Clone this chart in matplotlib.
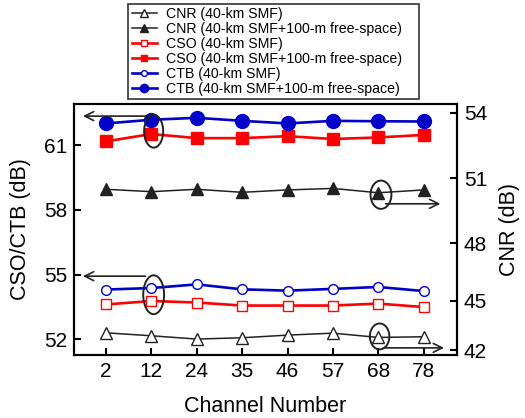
import numpy as np
import matplotlib
matplotlib.use("Agg")
import matplotlib.pyplot as plt
from matplotlib.patches import Ellipse

plt.rcParams['font.family'] = ['Liberation Sans', 'DejaVu Sans']

channels = ['2', '12', '24', '35', '46', '57', '68', '78']
cnr_smf = [43.05, 42.87, 42.67, 42.75, 42.91, 43.03, 42.77, 42.81]
cnr_fs = [50.48, 50.37, 50.48, 50.34, 50.45, 50.52, 50.32, 50.45]
cso_smf = [53.62, 53.78, 53.71, 53.57, 53.57, 53.57, 53.66, 53.50]
cso_fs = [61.17, 61.51, 61.32, 61.32, 61.41, 61.28, 61.35, 61.47]
ctb_smf = [54.31, 54.38, 54.55, 54.32, 54.26, 54.34, 54.43, 54.24]
ctb_fs = [62.00, 62.17, 62.26, 62.12, 62.00, 62.12, 62.10, 62.09]

left_ticks = [52, 55, 58, 61]
right_ticks = [42, 45, 48, 51, 54]

x = np.arange(len(channels))
blue = '#0000c8'
red = '#ff0000'
dark = '#222222'

fig = plt.figure(figsize=(5.25, 4.18), dpi=100)
ax = fig.add_axes([0.141, 0.1507, 0.729, 0.6005])
ax2 = ax.twinx()

# the right axis of the original is not evenly spaced, follow it piecewise
kv = [40, 42, 45, 48, 51, 54, 56]
kp = [-382.8, -350.0, -300.7, -243.0, -178.0, -112.7, -69.3]
fwd = lambda v: np.interp(v, kv, kp)
inv = lambda p: np.interp(p, kp, kv)
ax2.set_yscale('function', functions=(fwd, inv))

l1, = ax2.plot(x, cnr_smf, '-', color=dark, lw=1.1, marker='^', ms=9,
               mfc='white', mec=dark, mew=1.0, label='CNR (40-km SMF)')
l2, = ax2.plot(x, cnr_fs, '-', color=dark, lw=1.1, marker='^', ms=9,
               mfc=dark, mec=dark, label='CNR (40-km SMF+100-m free-space)')
l3, = ax.plot(x, cso_smf, '-', color=red, lw=1.9, marker='s', ms=7,
              mfc='white', mec=red, mew=1.0, label='CSO (40-km SMF)')
l4, = ax.plot(x, cso_fs, '-', color=red, lw=1.9, marker='s', ms=8,
              mfc=red, mec=red, label='CSO (40-km SMF+100-m free-space)')
l5, = ax.plot(x, ctb_smf, '-', color=blue, lw=1.9, marker='o', ms=7,
              mfc='white', mec=blue, mew=1.0, label='CTB (40-km SMF)')
l6, = ax.plot(x, ctb_fs, '-', color=blue, lw=1.9, marker='o', ms=10,
              mfc=blue, mec=blue, label='CTB (40-km SMF+100-m free-space)')

ax.set_xlim(-0.705, 7.73)
ax.set_ylim(51.28, 62.9)
ax2.set_ylim(41.7, 54.4)
ax.set_xticks(x)
ax.set_xticklabels(channels)
ax.set_yticks(left_ticks)
ax2.set_yticks(right_ticks)
ax2.yaxis.set_minor_locator(matplotlib.ticker.NullLocator())

for a in (ax, ax2):
    a.tick_params(direction='in', length=5, width=1.5, labelsize=15, pad=5)
    for s in a.spines.values():
        s.set_linewidth(1.5)

ax.set_xlabel('Channel Number', fontsize=15.5, labelpad=11)
ax.set_ylabel('CSO/CTB (dB)', fontsize=15.5, labelpad=9)
ax2.set_ylabel('CNR (dB)', fontsize=15.5, labelpad=9)

# circles and arrows pointing to the axis each pair belongs to
for cx, cy, w, h in [(1.05, 61.64, 0.42, 1.52), (1.05, 54.07, 0.46, 1.80),
                     (6.06, 58.70, 0.46, 1.31), (6.03, 52.14, 0.43, 1.20)]:
    ax.add_patch(Ellipse((cx, cy), w, h, fill=False, ec=dark, lw=1.4, zorder=5))

arrow = dict(arrowstyle='->', lw=1.2, color=dark, mutation_scale=16)
ax.annotate('', xy=(-0.57, 62.34), xytext=(0.93, 62.34), arrowprops=arrow)
ax.annotate('', xy=(-0.57, 54.93), xytext=(0.93, 54.93), arrowprops=arrow)
ax.annotate('', xy=(7.43, 58.28), xytext=(6.1, 58.28), arrowprops=arrow)
ax.annotate('', xy=(7.51, 51.61), xytext=(6.05, 51.61), arrowprops=arrow)

leg = fig.legend(handles=[l1, l2, l3, l4, l5, l6], loc='upper left',
                 bbox_to_anchor=(128 / 525, 0.2, 291 / 525, 0.791),
                 mode='expand', fontsize=10.2, frameon=True,
                 fancybox=False, edgecolor='black', markerscale=0.6,
                 handlelength=1.8, handletextpad=0.6, labelspacing=0.06,
                 borderpad=0.25, borderaxespad=0.0)
leg.get_frame().set_linewidth(1.2)

fig.savefig('out.png', dpi=100)
